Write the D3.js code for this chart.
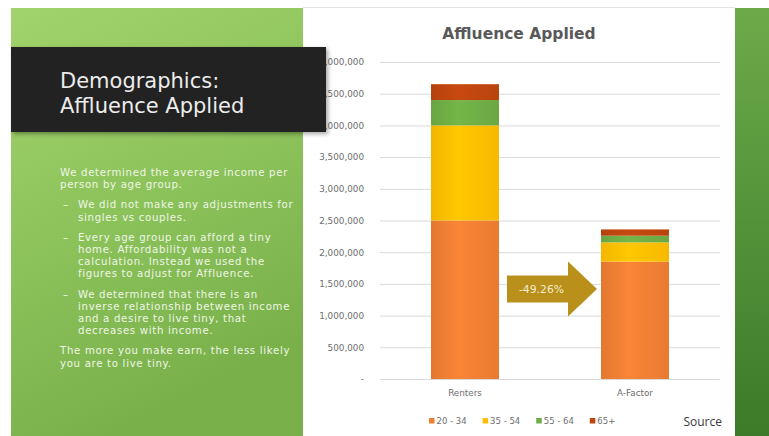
<!DOCTYPE html>
<html>
<head>
<meta charset="utf-8">
<script src="https://cdn.jsdelivr.net/npm/d3@7"></script>
<style>
  html, body { margin: 0; padding: 0; background: #fff; }
  svg { display: block; }
</style>
</head>
<body>
<svg id="slide" width="769" height="436"></svg>
<script>
// Stacked income totals per household type, split by age group
const categories = ["Renters", "A-Factor"];
const ageGroups = ["20 - 34", "35 - 54", "55 - 64", "65+"];
const age20to34 = [2500000, 1850000];
const age35to54 = [1500000, 305000];
const age55to64 = [400000, 105000];
const age65plus = [250000, 99400];
const yTicks = [0, 500000, 1000000, 1500000, 2000000, 2500000, 3000000, 3500000, 4000000, 4500000, 5000000];
const groupColors = ["#f07f33", "#ffc000", "#6fae45", "#c0460f"];

const slideTitle = ["Demographics:", "Affluence Applied"];
const chartTitle = "Affluence Applied";
const bodyText = [
  { bullet: false, lines: ["We determined the average income per", "person by age group."] },
  { bullet: true, lines: ["We did not make any adjustments for", "singles vs couples."] },
  { bullet: true, lines: ["Every age group can afford a tiny", "home. Affordability was not a", "calculation. Instead we used the", "figures to adjust for Affluence."] },
  { bullet: true, lines: ["We determined that there is an", "inverse relationship between income", "and a desire to live tiny, that", "decreases with income."] },
  { bullet: false, lines: ["The more you make earn, the less likely", "you are to live tiny."] }
];

const svg = d3.select("#slide");
const defs = svg.append("defs");
const sans = "'DejaVu Sans', Verdana, sans-serif";

// Slide backgrounds
const gLeft = defs.append("linearGradient").attr("id", "leftPanel")
  .attr("x1", 0).attr("y1", 0).attr("x2", 0.35).attr("y2", 1);
gLeft.append("stop").attr("offset", 0).attr("stop-color", "#a2d36c");
gLeft.append("stop").attr("offset", 0.55).attr("stop-color", "#8cc25a");
gLeft.append("stop").attr("offset", 1).attr("stop-color", "#79b04a");

const gRight = defs.append("linearGradient").attr("id", "rightStrip")
  .attr("x1", 0).attr("y1", 0).attr("x2", 0).attr("y2", 1);
gRight.append("stop").attr("offset", 0).attr("stop-color", "#6caa4a");
gRight.append("stop").attr("offset", 1).attr("stop-color", "#3d7a29");

const shadow = defs.append("filter").attr("id", "boxShadow")
  .attr("x", -0.05).attr("y", -0.1).attr("width", 1.15).attr("height", 1.3);
shadow.append("feDropShadow").attr("dx", 2).attr("dy", 2).attr("stdDeviation", 2)
  .attr("flood-color", "#000").attr("flood-opacity", 0.35);

svg.append("rect").attr("x", 0).attr("y", 0).attr("width", 769).attr("height", 436).attr("fill", "#ffffff");
svg.append("rect").attr("x", 11).attr("y", 8).attr("width", 292).attr("height", 428).attr("fill", "url(#leftPanel)");
svg.append("rect").attr("x", 735).attr("y", 8).attr("width", 34).attr("height", 428).attr("fill", "url(#rightStrip)");
svg.append("line").attr("x1", 303).attr("x2", 735).attr("y1", 7.5).attr("y2", 7.5)
  .attr("stroke", "#e4e4e4");

// Body text on the green panel
const body = svg.append("g")
  .attr("font-family", sans)
  .attr("font-size", 10.2)
  .attr("letter-spacing", 0.68)
  .attr("fill", "#eef6e6");
let ty = 176;
bodyText.forEach((para, pi) => {
  if (pi > 0) ty += 8;
  para.lines.forEach((line, li) => {
    if (para.bullet && li === 0) {
      body.append("text").attr("x", 63).attr("y", ty).text("–");
    }
    body.append("text").attr("x", para.bullet ? 78 : 60).attr("y", ty).text(line);
    ty += 12.2;
  });
});

// Chart scales
const x = d3.scaleBand().domain(categories).range([380, 720])
  .paddingInner(0.6).paddingOuter(0.3);
const y = d3.scaleLinear().domain([0, 5000000]).range([379, 62]);

// Title
svg.append("text")
  .attr("x", 519).attr("y", 38.5)
  .attr("text-anchor", "middle")
  .attr("font-family", sans)
  .attr("font-weight", 700)
  .attr("font-size", 15.5)
  .attr("fill", "#595959")
  .text(chartTitle);

// Y axis with gridlines
const yAxis = d3.axisLeft(y)
  .tickValues(yTicks)
  .tickSize(-340)
  .tickPadding(16)
  .tickFormat(d => d === 0 ? "-" : d3.format(",")(d));
const gy = svg.append("g").attr("transform", "translate(380,0)").call(yAxis);
gy.select(".domain").remove();
gy.selectAll(".tick line").attr("stroke", "#d9d9d9");
gy.selectAll(".tick text")
  .attr("font-family", sans)
  .attr("font-size", 8.8)
  .attr("fill", "#6e6e6e");

// Stacked bars
const rows = categories.map((c, i) => ({
  category: c,
  "20 - 34": age20to34[i],
  "35 - 54": age35to54[i],
  "55 - 64": age55to64[i],
  "65+": age65plus[i]
}));
const stack = d3.stack().keys(ageGroups)(rows);
const color = d3.scaleOrdinal().domain(ageGroups).range(groupColors);

ageGroups.forEach((k, i) => {
  const base = d3.color(groupColors[i]);
  const g = defs.append("linearGradient").attr("id", "barGrad" + i)
    .attr("x1", 0).attr("y1", 0).attr("x2", 1).attr("y2", 0);
  g.append("stop").attr("offset", 0).attr("stop-color", base.darker(0.15));
  g.append("stop").attr("offset", 0.4).attr("stop-color", base.brighter(0.12));
  g.append("stop").attr("offset", 1).attr("stop-color", base.darker(0.1));
});

const barsG = svg.append("g");
stack.forEach((layer, li) => {
  barsG.selectAll(null)
    .data(layer)
    .join("rect")
    .attr("x", d => x(d.data.category))
    .attr("width", x.bandwidth())
    .attr("y", d => y(d[1]))
    .attr("height", d => y(d[0]) - y(d[1]))
    .attr("fill", "url(#barGrad" + li + ")");
});

// X axis labels
const xAxis = d3.axisBottom(x).tickSize(0).tickPadding(11);
const gx = svg.append("g").attr("transform", "translate(0,379)").call(xAxis);
gx.select(".domain").remove();
gx.selectAll(".tick text")
  .attr("font-family", sans)
  .attr("font-size", 8.8)
  .attr("fill", "#6e6e6e");

// Change arrow between the two totals
const pct = d3.formatLocale({ decimal: ".", thousands: ",", grouping: [3], currency: ["$", ""], minus: "-" }).format(".2%");
const totals = rows.map(r => ageGroups.reduce((s, k) => s + r[k], 0));
const change = totals[1] / totals[0] - 1;
const ax0 = x(categories[0]) + x.bandwidth() + 8;
const ax1 = x(categories[1]) - 4;
const axHead = ax1 - 29;
const ayc = y(1420000);
const arrowPath = d3.path();
arrowPath.moveTo(ax0, ayc - 13.5);
arrowPath.lineTo(axHead, ayc - 13.5);
arrowPath.lineTo(axHead, ayc - 27.5);
arrowPath.lineTo(ax1, ayc);
arrowPath.lineTo(axHead, ayc + 27.5);
arrowPath.lineTo(axHead, ayc + 13.5);
arrowPath.lineTo(ax0, ayc + 13.5);
arrowPath.closePath();
svg.append("path").attr("d", arrowPath.toString()).attr("fill", "#b8901a");
svg.append("text")
  .attr("x", (ax0 + axHead) / 2 + 4).attr("y", ayc + 4)
  .attr("text-anchor", "middle")
  .attr("font-family", sans)
  .attr("font-size", 10.8)
  .attr("fill", "#f7ecd0")
  .text(pct(change));

// Legend
const legend = svg.append("g").attr("transform", "translate(429,424)")
  .attr("font-family", sans)
  .attr("font-size", 8.5)
  .attr("fill", "#6e6e6e");
let lx = 0;
ageGroups.forEach(k => {
  legend.append("rect").attr("x", lx).attr("y", -6).attr("width", 5.5).attr("height", 5.5)
    .attr("fill", color(k));
  const t = legend.append("text").attr("x", lx + 7.5).attr("y", 0).text(k);
  lx += 7.5 + t.node().getComputedTextLength() + 16;
});

svg.append("text")
  .attr("x", 722).attr("y", 426)
  .attr("text-anchor", "end")
  .attr("font-family", "'Open Sans', sans-serif")
  .attr("font-size", 12)
  .attr("fill", "#3a3a3a")
  .text("Source");

// Slide heading on a dark band
svg.append("rect").attr("x", 11).attr("y", 47).attr("width", 315).attr("height", 85)
  .attr("fill", "#222222").attr("filter", "url(#boxShadow)");
const heading = svg.append("g")
  .attr("font-family", sans)
  .attr("font-size", 21)
  .attr("fill", "#ececec");
slideTitle.forEach((line, i) => {
  heading.append("text").attr("x", 60).attr("y", 88 + i * 24.5).text(line);
});
</script>
</body>
</html>
